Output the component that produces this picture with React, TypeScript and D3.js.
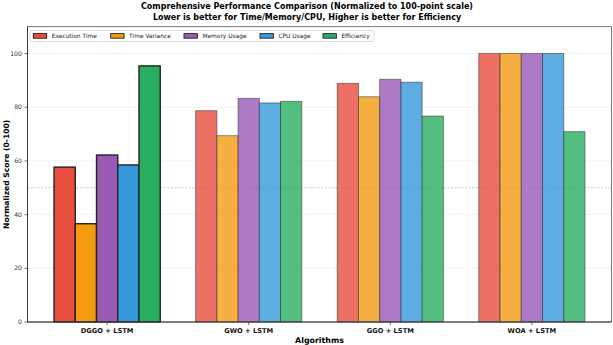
import * as d3 from "d3";

const algorithms = ["DGGO + LSTM", "GWO + LSTM", "GGO + LSTM", "WOA + LSTM"];
const metrics = ["Execution Time", "Time Variance", "Memory Usage", "CPU Usage", "Efficiency"];
const colors = ["#e74c3c", "#f39c12", "#9b59b6", "#3498db", "#27ae60"];

const executionTime = [57.7, 78.7, 88.9, 100];
const timeVariance = [36.6, 69.4, 83.9, 100];
const memoryUsage = [62.2, 83.3, 90.4, 100];
const cpuUsage = [58.5, 81.6, 89.3, 100];
const efficiency = [95.4, 82.2, 76.7, 70.9];

const series = [executionTime, timeVariance, memoryUsage, cpuUsage, efficiency];
const yTicks = [0, 20, 40, 60, 80, 100];

const W = 613;
const H = 345;
const m = { left: 27.5, right: 611.5, top: 26.7, bottom: 322 };
const barW = 0.15;
const font = "DejaVu Sans, sans-serif";

const App = () => {
  let x = d3
    .scaleLinear()
    .domain([-0.5625, 3.5625])
    .range([m.left, m.right]);

  let y = d3.scaleLinear().domain([0, 110]).range([m.bottom, m.top]);

  // legend item starts, measured along the legend row
  const legendX = [33.3, 110.7, 184, 260, 323];

  return (
    <svg
      width={W}
      height={H}
      viewBox={`0 0 ${W} ${H}`}
      style={{ position: "absolute", left: 0, top: 0, background: "#fff" }}
      fontFamily={font}
    >
      <text x={307} y={9} textAnchor="middle" fontSize={8} fontWeight="bold" fill="#000">
        Comprehensive Performance Comparison (Normalized to 100-point scale)
      </text>
      <text x={307} y={20} textAnchor="middle" fontSize={8} fontWeight="bold" fill="#000">
        Lower is better for Time/Memory/CPU, Higher is better for Efficiency
      </text>

      {/* grid */}
      {yTicks.slice(1).map((t) => (
        <line key={t} x1={m.left} x2={m.right} y1={y(t)} y2={y(t)} stroke="#000" strokeOpacity={0.08} strokeWidth={0.8} />
      ))}
      <line x1={m.left} x2={m.right} y1={y(50)} y2={y(50)} stroke="#888" strokeOpacity={0.6} strokeWidth={0.8} strokeDasharray="2,1.5" />

      {/* bars */}
      {algorithms.map((a, i) =>
        series.map((s, j) => {
          const best = i === 0;
          const x0 = x(i + (j - 2) * barW - barW / 2);
          const x1 = x(i + (j - 2) * barW + barW / 2);
          return (
            <rect
              key={a + j}
              x={x0}
              y={y(s[i])}
              width={x1 - x0}
              height={y(0) - y(s[i])}
              fill={colors[j]}
              fillOpacity={best ? 1 : 0.8}
              stroke={best ? "#222" : "#333"}
              strokeOpacity={best ? 1 : 0.6}
              strokeWidth={best ? 1.4 : 0.9}
            />
          );
        })
      )}

      {/* spines */}
      <rect x={m.left} y={m.top} width={m.right - m.left} height={m.bottom - m.top} fill="none" stroke="#555" strokeWidth={0.8} />
      <line x1={m.left} x2={m.left} y1={m.top} y2={m.bottom} stroke="#333" strokeWidth={0.9} />
      <line x1={m.left} x2={m.right} y1={m.bottom} y2={m.bottom} stroke="#333" strokeWidth={0.9} />

      {/* y axis */}
      {yTicks.map((t) => (
        <g key={t}>
          <line x1={m.left - 3} x2={m.left} y1={y(t)} y2={y(t)} stroke="#333" strokeWidth={0.7} />
          <text x={m.left - 5.5} y={y(t)} dy="0.35em" textAnchor="end" fontSize={6.2} fill="#333">
            {t}
          </text>
        </g>
      ))}
      <text
        transform={`translate(8.5,${(m.top + m.bottom) / 2}) rotate(-90)`}
        textAnchor="middle"
        fontSize={7.6}
        fontWeight="bold"
        fill="#000"
      >
        Normalized Score (0-100)
      </text>

      {/* x axis */}
      {algorithms.map((a, i) => (
        <g key={a}>
          <line x1={x(i)} x2={x(i)} y1={m.bottom} y2={m.bottom + 3} stroke="#333" strokeWidth={0.7} />
          <text x={x(i)} y={m.bottom + 10.5} textAnchor="middle" fontSize={6.7} fontWeight="bold" fill="#111">
            {a}
          </text>
        </g>
      ))}
      <text x={(m.left + m.right) / 2} y={343} textAnchor="middle" fontSize={7.9} fontWeight="bold" fill="#000">
        Algorithms
      </text>

      {/* legend */}
      <rect x={30} y={30.5} width={344} height={11} rx={2} fill="#fff" fillOpacity={0.8} stroke="#ccc" strokeWidth={0.7} />
      {metrics.map((name, j) => (
        <g key={name}>
          <rect x={legendX[j]} y={33.6} width={13.4} height={4.6} fill={colors[j]} stroke="#222" strokeWidth={0.9} />
          <text x={legendX[j] + 18.4} y={36} dy="0.35em" fontSize={5.9} fill="#222">
            {name}
          </text>
        </g>
      ))}
    </svg>
  );
};

export default App;
